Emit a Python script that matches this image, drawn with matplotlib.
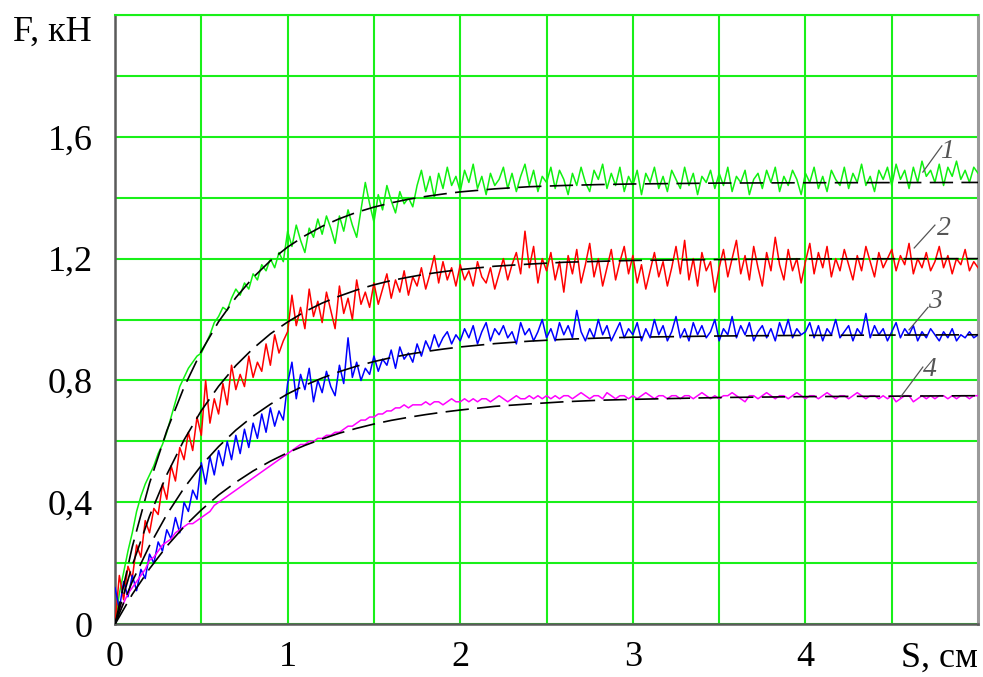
import numpy as np
import matplotlib.pyplot as plt

# sampling positions of the recorded curves, S in cm (0 .. 5 step 0.025)
s = np.arange(201) * 0.025

f1 = [0.00, 0.10, 0.17, 0.24, 0.30, 0.37, 0.42, 0.46, 0.49, 0.52,
      0.56, 0.59, 0.63, 0.68, 0.73, 0.78, 0.81, 0.84, 0.86, 0.88,
      0.89, 0.92, 0.95, 0.99, 1.01, 1.04, 1.03, 1.07, 1.10, 1.08,
      1.12, 1.10, 1.15, 1.13, 1.18, 1.16, 1.20, 1.17, 1.22, 1.19,
      1.29, 1.24, 1.31, 1.26, 1.22, 1.30, 1.27, 1.33, 1.28, 1.34,
      1.30, 1.25, 1.34, 1.29, 1.36, 1.31, 1.27, 1.36, 1.45, 1.38,
      1.32, 1.41, 1.36, 1.44, 1.39, 1.35, 1.42, 1.38, 1.40, 1.37,
      1.44, 1.49, 1.42, 1.47, 1.40, 1.48, 1.43, 1.50, 1.44, 1.47,
      1.42, 1.49, 1.45, 1.51, 1.43, 1.47, 1.41, 1.48, 1.44, 1.46,
      1.50, 1.43, 1.48, 1.42, 1.47, 1.51, 1.44, 1.49, 1.42, 1.47,
      1.45, 1.50, 1.43, 1.49, 1.46, 1.41, 1.48, 1.44, 1.50, 1.45,
      1.42, 1.49, 1.46, 1.51, 1.43, 1.48, 1.44, 1.50, 1.42, 1.47,
      1.44, 1.49, 1.41, 1.48, 1.45, 1.50, 1.43, 1.47, 1.42, 1.49,
      1.46, 1.43, 1.50, 1.44, 1.48, 1.41, 1.47, 1.45, 1.49, 1.43,
      1.48, 1.44, 1.50, 1.42, 1.47, 1.45, 1.49, 1.41, 1.46, 1.48,
      1.43, 1.49, 1.45, 1.50, 1.42, 1.47, 1.44, 1.49, 1.46, 1.41,
      1.48, 1.45, 1.50, 1.43, 1.47, 1.42, 1.49, 1.46, 1.44, 1.50,
      1.43, 1.48, 1.45, 1.51, 1.44, 1.47, 1.42, 1.49, 1.46, 1.50,
      1.44, 1.51, 1.46, 1.49, 1.43, 1.50, 1.45, 1.52, 1.47, 1.49,
      1.45, 1.51, 1.44, 1.50, 1.47, 1.52, 1.46, 1.49, 1.45, 1.50,
      1.48]

f2 = [0.00, 0.16, 0.08, 0.19, 0.15, 0.26, 0.22, 0.34, 0.30, 0.38,
      0.36, 0.46, 0.41, 0.52, 0.47, 0.58, 0.54, 0.63, 0.57, 0.68,
      0.62, 0.80, 0.66, 0.74, 0.69, 0.79, 0.72, 0.85, 0.77, 0.82,
      0.78, 0.88, 0.81, 0.86, 0.83, 0.92, 0.85, 0.95, 0.89, 0.93,
      0.96, 1.08, 0.98, 1.04, 0.97, 1.10, 1.01, 1.06, 0.99, 1.09,
      1.03, 0.97, 1.11, 1.02, 1.07, 1.00, 1.13, 1.05, 1.09, 1.04,
      1.12, 1.05, 1.10, 1.15, 1.07, 1.13, 1.09, 1.16, 1.08, 1.14,
      1.11, 1.17, 1.10, 1.15, 1.21, 1.12, 1.19, 1.13, 1.17, 1.11,
      1.18, 1.13, 1.16, 1.11, 1.19, 1.14, 1.12, 1.17, 1.10, 1.15,
      1.20, 1.13, 1.18, 1.22, 1.15, 1.29, 1.17, 1.24, 1.12, 1.20,
      1.16, 1.22, 1.13, 1.19, 1.09, 1.21, 1.15, 1.23, 1.12, 1.18,
      1.25, 1.14, 1.20, 1.11, 1.17, 1.23, 1.13, 1.19, 1.24, 1.15,
      1.21, 1.12, 1.18, 1.10, 1.16, 1.22, 1.14, 1.19, 1.11, 1.17,
      1.24, 1.15, 1.26, 1.13, 1.20, 1.11, 1.22, 1.16, 1.19, 1.09,
      1.17, 1.23, 1.14, 1.20, 1.26, 1.15, 1.21, 1.13, 1.24, 1.17,
      1.11, 1.22, 1.16, 1.27, 1.18, 1.13, 1.23, 1.16, 1.20, 1.12,
      1.19, 1.25, 1.15, 1.22, 1.17, 1.24, 1.14, 1.20, 1.16, 1.23,
      1.18, 1.13, 1.21, 1.16, 1.24, 1.19, 1.14, 1.22, 1.17, 1.20,
      1.23, 1.16, 1.21, 1.18, 1.25, 1.15, 1.20, 1.17, 1.22, 1.16,
      1.19, 1.24, 1.17, 1.21, 1.15, 1.20, 1.18, 1.23, 1.16, 1.19,
      1.17]

f3 = [0.12, 0.05, 0.14, 0.09, 0.16, 0.11, 0.18, 0.15, 0.23, 0.20,
      0.27, 0.24, 0.31, 0.28, 0.35, 0.30, 0.40, 0.37, 0.44, 0.41,
      0.53, 0.46, 0.55, 0.49, 0.57, 0.52, 0.60, 0.54, 0.62, 0.56,
      0.64, 0.58, 0.66, 0.61, 0.69, 0.63, 0.71, 0.65, 0.70, 0.67,
      0.79, 0.86, 0.74, 0.82, 0.77, 0.84, 0.73, 0.80, 0.76, 0.83,
      0.78, 0.75, 0.85, 0.79, 0.94, 0.81, 0.86, 0.80, 0.84, 0.82,
      0.88, 0.83, 0.87, 0.85, 0.90, 0.84, 0.91, 0.87, 0.89, 0.86,
      0.92, 0.88, 0.93, 0.90, 0.95, 0.91, 0.94, 0.96, 0.92, 0.95,
      0.93, 0.97, 0.94, 0.98, 0.92, 0.96, 0.99, 0.93, 0.97, 0.95,
      0.98, 0.94, 0.96, 0.92, 0.99, 0.95, 0.97, 0.93, 0.96, 1.00,
      0.94, 0.97, 0.93, 0.99, 0.95, 0.98, 0.94, 1.03, 0.96, 0.93,
      0.97, 0.94, 1.00, 0.95, 0.98, 0.93, 0.96, 0.99, 0.94, 0.97,
      0.95, 0.99, 0.93, 0.97, 0.94, 1.00, 0.95, 0.98, 0.93, 0.96,
      1.01, 0.94, 0.97, 0.93, 0.99, 0.95, 0.98, 0.94, 0.96, 1.00,
      0.93, 0.97, 0.95, 1.01, 0.94, 0.98, 0.95, 0.99, 0.93, 0.96,
      0.98, 0.94, 0.97, 0.93, 0.99, 0.95, 1.00, 0.94, 0.97, 0.95,
      0.96, 0.99, 0.94, 0.98, 0.93, 0.97, 0.95, 1.00, 0.94, 0.96,
      0.98, 0.93, 0.97, 0.95, 1.02, 0.94, 0.98, 0.95, 0.97, 0.93,
      0.96, 0.99, 0.94, 0.97, 0.95, 0.98, 0.93, 0.96, 0.94, 0.97,
      0.95, 0.93, 0.96, 0.94, 0.97, 0.93, 0.95, 0.94, 0.96, 0.94,
      0.95]

f4 = [0.00, 0.04, 0.07, 0.10, 0.12, 0.14, 0.16, 0.18, 0.21, 0.22,
      0.24, 0.26, 0.27, 0.28, 0.30, 0.31, 0.32, 0.33, 0.33, 0.34,
      0.35, 0.36, 0.37, 0.39, 0.40, 0.41, 0.42, 0.43, 0.44, 0.45,
      0.46, 0.47, 0.48, 0.49, 0.50, 0.51, 0.52, 0.53, 0.54, 0.55,
      0.56, 0.57, 0.58, 0.59, 0.59, 0.60, 0.60, 0.61, 0.61, 0.62,
      0.62, 0.63, 0.63, 0.64, 0.65, 0.65, 0.66, 0.67, 0.67, 0.68,
      0.68, 0.69, 0.69, 0.70, 0.70, 0.71, 0.71, 0.72, 0.71, 0.72,
      0.72, 0.72, 0.73, 0.72, 0.73, 0.73, 0.72, 0.73, 0.74, 0.73,
      0.73, 0.74, 0.73, 0.74, 0.73, 0.74, 0.74, 0.73, 0.74, 0.75,
      0.74, 0.73, 0.74, 0.75, 0.74, 0.74, 0.75, 0.74, 0.75, 0.74,
      0.75, 0.74, 0.75, 0.74, 0.75, 0.75, 0.74, 0.75, 0.76, 0.75,
      0.74, 0.75, 0.75, 0.74, 0.76, 0.75, 0.74, 0.75, 0.75, 0.74,
      0.75, 0.74, 0.75, 0.76, 0.75, 0.74, 0.75, 0.75, 0.74, 0.75,
      0.75, 0.74, 0.75, 0.75, 0.74, 0.75, 0.76, 0.75, 0.74, 0.75,
      0.74, 0.75, 0.75, 0.76, 0.75, 0.74, 0.73, 0.75, 0.75, 0.74,
      0.75, 0.76, 0.75, 0.74, 0.75, 0.75, 0.74, 0.75, 0.76, 0.75,
      0.74, 0.75, 0.75, 0.74, 0.75, 0.76, 0.75, 0.74, 0.75, 0.75,
      0.74, 0.75, 0.76, 0.75, 0.74, 0.75, 0.75, 0.74, 0.75, 0.74,
      0.75, 0.73, 0.74, 0.75, 0.75, 0.73, 0.74, 0.75, 0.74, 0.75,
      0.74, 0.75, 0.75, 0.74, 0.75, 0.74, 0.75, 0.75, 0.74, 0.75,
      0.75]

# approximating (dashed) curves
fit_s = [0, 0.1, 0.2, 0.3, 0.4, 0.5, 0.6, 0.7, 0.8, 0.9, 1.0, 1.1, 1.2, 1.3,
         1.4, 1.5, 1.6, 1.7, 1.8, 1.9, 2.0, 2.2, 2.4, 2.6, 2.8, 3.0, 3.5, 4.0, 5.0]
fit1 = [0, 0.254, 0.463, 0.635, 0.778, 0.896, 0.993, 1.072, 1.138, 1.193, 1.238,
        1.275, 1.306, 1.331, 1.352, 1.369, 1.383, 1.395, 1.404, 1.412, 1.419,
        1.429, 1.436, 1.440, 1.443, 1.445, 1.448, 1.449, 1.45]
fit2 = [0, 0.193, 0.355, 0.491, 0.605, 0.701, 0.781, 0.849, 0.905, 0.953, 0.992,
        1.026, 1.054, 1.077, 1.097, 1.114, 1.128, 1.139, 1.149, 1.157, 1.164,
        1.175, 1.182, 1.188, 1.191, 1.194, 1.197, 1.199, 1.20]
fit3 = [0, 0.140, 0.258, 0.360, 0.447, 0.521, 0.583, 0.637, 0.683, 0.722, 0.756,
        0.784, 0.808, 0.829, 0.847, 0.862, 0.875, 0.886, 0.895, 0.903, 0.910,
        0.921, 0.929, 0.935, 0.939, 0.942, 0.946, 0.948, 0.95]
fit4 = [0, 0.098, 0.182, 0.256, 0.320, 0.375, 0.424, 0.466, 0.503, 0.535, 0.563,
        0.587, 0.608, 0.627, 0.643, 0.657, 0.669, 0.679, 0.688, 0.696, 0.703,
        0.715, 0.723, 0.730, 0.735, 0.738, 0.744, 0.747, 0.75]

curve_colors = ['#10f010', '#ff0000', '#0000ff', '#ff00ff']
curve_names = ['1', '2', '3', '4']
# leader line start / end and label centre, data coords
lead_from = [(4.68, 1.484), (4.63, 1.235), (4.60, 0.966), (4.55, 0.745)]
lead_to = [(4.79, 1.57), (4.75, 1.31), (4.71, 1.04), (4.68, 0.844)]
label_at = [(4.82, 1.55), (4.80, 1.30), (4.75, 1.06), (4.72, 0.835)]

plt.rcParams['font.family'] = ['Liberation Serif', 'DejaVu Serif']

fig = plt.figure(figsize=(9.83, 6.77), dpi=100)
ax = fig.add_axes([0.117, 0.078, 0.878, 0.900])

for y, c in zip([f1, f2, f3, f4], curve_colors):
    ax.plot(s, y, color=c, lw=1.1, zorder=3)
for y in [fit1, fit2, fit3, fit4]:
    ax.plot(fit_s, y, color='black', lw=1.2, dashes=(14, 5), zorder=4)

for name, p0, p1, p2 in zip(curve_names, lead_from, lead_to, label_at):
    ax.plot([p0[0], p1[0]], [p0[1], p1[1]], color='#555555', lw=0.9, zorder=5)
    ax.text(p2[0], p2[1], name, fontsize=20, style='italic', color='#555555',
            ha='center', va='center', zorder=5)

ax.set_xlim(0, 5)
ax.set_ylim(0, 2.0)
ax.set_xticks(np.arange(0, 5.0, 0.5))
ax.set_xticklabels(['0', '', '1', '', '2', '', '3', '', '4', ''])
ax.set_yticks(np.arange(0, 2.01, 0.2))
ax.set_yticklabels(['0', '', '0,4', '', '0,8', '', '1,2', '', '1,6', '', ''])
ax.tick_params(length=0, labelsize=26)
ax.tick_params(axis='x', pad=12)
ax.tick_params(axis='y', pad=16)
ax.grid(True, color='#19f019', lw=1.5)
ax.set_axisbelow(True)

for side in ['left', 'bottom']:
    ax.spines[side].set_color('#5a5a5a')
    ax.spines[side].set_linewidth(1.8)
ax.spines['right'].set_color('#9a9a9a')
ax.spines['right'].set_linewidth(2.2)
ax.spines['top'].set_color('#19f019')
ax.spines['top'].set_linewidth(1.5)

fig.text(0.013, 0.953, 'F, кН', fontsize=26, ha='left', va='center')
fig.text(0.995, 0.028, 'S, см', fontsize=26, ha='right', va='center')

plt.savefig('out.png')
